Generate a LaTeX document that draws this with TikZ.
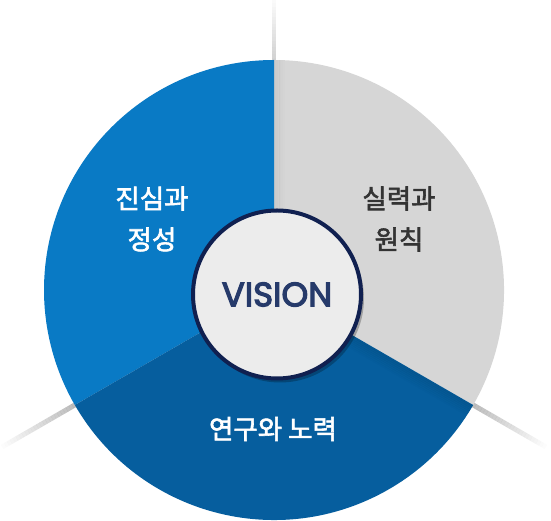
\documentclass[tikz,border=0pt]{standalone}
\usepackage{fontspec}
\newfontfamily\kr{Noto Sans CJK KR}[FakeBold=2.2]
\newfontfamily\pop{Poppins}[FakeBold=3.5]
\usetikzlibrary{shadows,calc}
\definecolor{segleft}{RGB}{9,122,197}
\definecolor{segbottom}{RGB}{6,94,158}
\definecolor{segright}{RGB}{214,214,214}
\definecolor{innerfill}{RGB}{236,236,236}
\definecolor{innerborder}{RGB}{16,32,80}
\definecolor{vistext}{RGB}{38,58,106}
\tikzset{
  krlabel/.style={font=\kr\fontsize{26.5}{41}\selectfont, align=center, inner sep=0pt},
}
\begin{document}
\begin{tikzpicture}[x=1pt,y=1pt]
\useasboundingbox (0,0) rectangle (551,521);
\coordinate (C) at (274,231);
% outer separator lines (fading)
\foreach \i in {0,...,24}{
  \pgfmathsetmacro{\op}{0.26*(1-\i/25)}
  \pgfmathsetmacro{\ra}{229+\i*3.4}
  \pgfmathsetmacro{\rb}{229+(\i+1)*3.4}
  \draw[black, opacity=\op, line width=5pt] ($(C)+(210:\ra)$) -- ($(C)+(210:\rb)$);
  \draw[black, opacity=\op, line width=5pt] ($(C)+(-30:\ra)$) -- ($(C)+(-30:\rb)$);
}
\foreach \i in {0,...,18}{
  \pgfmathsetmacro{\op}{0.18*(1-\i/19)}
  \pgfmathsetmacro{\ra}{229+\i*3.4}
  \pgfmathsetmacro{\rb}{229+(\i+1)*3.4}
  \draw[black, opacity=\op, line width=4pt] ($(C)+(90:\ra)$) -- ($(C)+(90:\rb)$);
}
% pie segments
\fill[segright] (C) -- ($(C)+(-30:230)$) arc[start angle=-30, end angle=90, radius=230] -- cycle;
\fill[segleft] (C) -- ($(C)+(90:230)$) arc[start angle=90, end angle=210, radius=230] -- cycle;
\fill[segbottom] (C) -- ($(C)+(210:230)$) arc[start angle=210, end angle=330, radius=230] -- cycle;
% soft inner shadows along separators
\begin{scope}
\clip (C) -- ($(C)+(-30:230)$) arc[start angle=-30, end angle=90, radius=230] -- cycle;
\foreach \i in {0,...,5}{
  \pgfmathsetmacro{\op}{0.05*(6-\i)/6}
  \draw[black, opacity=\op, line width=2pt] ($(C)+(\i*1.8+1,0)$) -- ++(0,235);
}
\end{scope}
\begin{scope}
\clip (C) -- ($(C)+(210:230)$) arc[start angle=210, end angle=330, radius=230] -- cycle;
\foreach \i in {0,...,6}{
  \pgfmathsetmacro{\op}{0.07*(7-\i)/7}
  \draw[black, opacity=\op, line width=2pt] ($(C)+(-120:\i*1.8+1)$) -- ++(-30:240);
}
\end{scope}
% center circle
\node[circle, minimum size=168pt, fill=innerfill, draw=innerborder, line width=4pt,
      drop shadow={shadow xshift=3pt, shadow yshift=-4pt, opacity=0.25, fill=black}]
      (vision) at (277,226.5) {};
\node[font=\pop\fontsize{34}{34}\selectfont, text=vistext, inner sep=0pt] (vtext) at (vision.center) {VISION};
% labels
\node[krlabel, text=white] (l1) at (152,302) {진심과\\정성};
\node[krlabel, text=black!80] (l2) at (399,302) {실력과\\원칙};
\node[krlabel, text=white] (l3) at (273,92) {연구와 노력};
\end{tikzpicture}
\end{document}
